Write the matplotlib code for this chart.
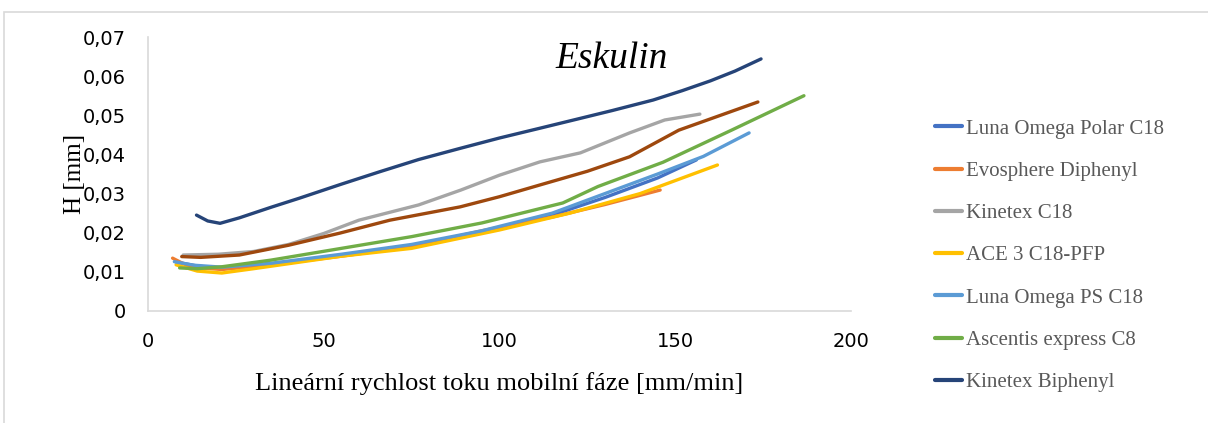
import matplotlib
matplotlib.use("Agg")
import matplotlib.pyplot as plt
from matplotlib.patches import Rectangle
from matplotlib.ticker import FuncFormatter, MultipleLocator

# H vs. linear flow velocity for each column (eskulin)
x_polar = [8, 14, 21, 35, 55, 75, 95, 115, 130, 145, 156]
h_polar = [0.0125, 0.0115, 0.0108, 0.0120, 0.0142, 0.0165, 0.0200, 0.0245, 0.0290, 0.0340, 0.0386]

x_evo = [7, 12, 21, 35, 55, 75, 95, 115, 130, 145.7]
h_evo = [0.0135, 0.0112, 0.0106, 0.0118, 0.0140, 0.0165, 0.0205, 0.0240, 0.0272, 0.0309]

x_kc18 = [10, 20, 30, 40, 50, 60, 77, 89, 100, 111.5, 123, 137, 147, 157]
h_kc18 = [0.0143, 0.0145, 0.0152, 0.0170, 0.0198, 0.0232, 0.0271, 0.0309, 0.0347, 0.0381, 0.0404, 0.0455, 0.0488, 0.0503]

x_ace = [8, 14, 21, 30, 55, 75, 100, 120, 140, 162]
h_ace = [0.0118, 0.0102, 0.0097, 0.0108, 0.0140, 0.0160, 0.0207, 0.0250, 0.0300, 0.0373]

x_ps = [7.5, 13, 21, 35, 55, 75, 95, 115, 130, 145, 158, 171]
h_ps = [0.0126, 0.0117, 0.0112, 0.0122, 0.0145, 0.0170, 0.0205, 0.0250, 0.0300, 0.0350, 0.0395, 0.0455]

x_asc = [9, 14, 21, 35, 55, 75, 95, 118, 128, 146.5, 166, 186.6]
h_asc = [0.0110, 0.0108, 0.0113, 0.0130, 0.0160, 0.0190, 0.0225, 0.0276, 0.0318, 0.0380, 0.0462, 0.0550]

x_kbi = [13.8, 17, 20.5, 26, 35, 43, 55, 66, 77, 89, 100, 111.5, 122, 132, 143.7, 152, 160, 167, 174.4]
h_kbi = [0.0245, 0.0230, 0.0224, 0.0238, 0.0265, 0.0288, 0.0324, 0.0356, 0.0387, 0.0416, 0.0442,
         0.0467, 0.0490, 0.0512, 0.0539, 0.0563, 0.0588, 0.0613, 0.0644]

x_extra = [9.6, 15, 26, 40, 54.6, 68.8, 88.8, 100, 111.5, 125, 137, 151, 173.5]
h_extra = [0.0139, 0.0137, 0.0143, 0.0168, 0.0199, 0.0232, 0.0266, 0.0292, 0.0322, 0.0357, 0.0394, 0.0462, 0.0534]

series = [
    ("Luna Omega Polar C18", x_polar, h_polar, "#4472C4"),
    ("Evosphere Diphenyl", x_evo, h_evo, "#ED7D31"),
    ("Kinetex C18", x_kc18, h_kc18, "#A5A5A5"),
    ("ACE 3 C18-PFP", x_ace, h_ace, "#FFC000"),
    ("Luna Omega PS C18", x_ps, h_ps, "#5B9BD5"),
    ("Ascentis express C8", x_asc, h_asc, "#70AD47"),
    ("Kinetex Biphenyl", x_kbi, h_kbi, "#264478"),
]

fig = plt.figure(figsize=(12.08, 4.23), dpi=100)
ax = fig.add_axes([0.1225, 0.2648, 0.582, 0.6477])

handles = []
for name, xs, hs, col in series:
    ln, = ax.plot(xs, hs, color=col, lw=2.4, solid_capstyle="round", solid_joinstyle="round", label=name)
    handles.append(ln)
ax.plot(x_extra, h_extra, color="#9E480E", lw=2.4, solid_capstyle="round", solid_joinstyle="round")

ax.set_xlim(0, 200)
ax.set_ylim(0, 0.07)
ax.xaxis.set_major_locator(MultipleLocator(50))
ax.yaxis.set_major_locator(MultipleLocator(0.01))
ax.yaxis.set_major_formatter(FuncFormatter(lambda v, p: "0" if abs(v) < 1e-9 else f"{v:.2f}".replace(".", ",")))
ax.tick_params(length=0, labelsize=14, colors="#000000")
ax.tick_params(axis="x", pad=15)
ax.tick_params(axis="y", pad=16)

for s in ["top", "right"]:
    ax.spines[s].set_visible(False)
for s in ["left", "bottom"]:
    ax.spines[s].set_color("#D9D9D9")
    ax.spines[s].set_linewidth(1.2)

ax.set_xlabel("Lineární rychlost toku mobilní fáze [mm/min]", fontsize=19, family="Liberation Serif", labelpad=15)
ax.set_ylabel("H [mm]", fontsize=18, family="Liberation Serif", labelpad=-2.5)
ax.text(0.66, 0.92, "Eskulin", transform=ax.transAxes, ha="center", va="center",
        fontsize=27, family="Liberation Serif", style="italic")

leg = fig.legend(handles=handles, loc="upper left", bbox_to_anchor=(935 / 1208, 1 - 119 / 423), frameon=False,
                 prop={"family": "Liberation Serif", "size": 15}, labelcolor="#595959",
                 handlelength=1.3, handletextpad=0.2, labelspacing=1.09,
                 borderpad=0, borderaxespad=0)
for h in leg.legend_handles:
    h.set_linewidth(3)

fig.add_artist(Rectangle((0.003, -0.1), 1.2, 1.1 - 12 / 423, transform=fig.transFigure,
                         fill=False, edgecolor="#D9D9D9", lw=1.2))

fig.savefig("out.png", dpi=100)
